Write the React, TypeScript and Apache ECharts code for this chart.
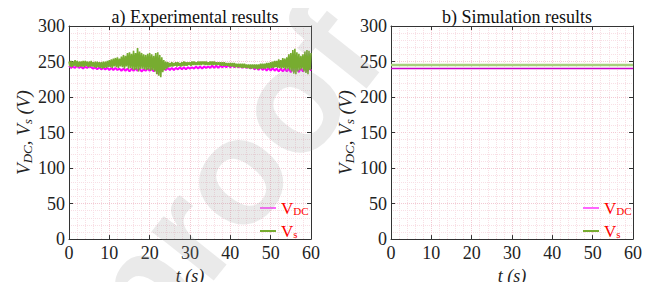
import React, { useEffect, useRef } from "react";
import * as echarts from "echarts";

// ---- data ----
const vsStep = 0.25; // seconds between experimental V_s samples
// experimental V_s (V): noisy trace, alternating high/low samples
const expVs = [
  250, 243, 251, 242, 250, 244, 252, 243, 251, 242, 250, 243, 250, 243, 251, 242,
  251, 244, 250, 242, 250, 243, 251, 243, 249, 242, 250, 241, 250, 242, 249, 241,
  249, 240, 250, 241, 250, 241, 251, 242, 252, 242, 253, 241, 254, 243, 255, 242,
  256, 241, 254, 243, 257, 242, 259, 240, 258, 243, 262, 240, 263, 241, 261, 239,
  265, 238, 262, 239, 269, 236, 264, 240, 262, 240, 260, 239, 259, 238, 261, 239,
  262, 237, 260, 238, 258, 236, 262, 232, 263, 230, 259, 228, 256, 235, 252, 238,
  250, 240, 249, 242, 248, 243, 249, 243, 248, 244, 249, 243, 249, 244, 248, 243,
  249, 244, 250, 244, 249, 244, 249, 245, 249, 244, 250, 245, 250, 245, 249, 245,
  250, 245, 250, 245, 250, 246, 250, 245, 250, 245, 249, 245, 250, 245, 250, 245,
  250, 245, 249, 245, 249, 245, 249, 244, 249, 244, 249, 244, 248, 244, 248, 243,
  248, 243, 248, 243, 248, 242, 247, 242, 247, 242, 247, 241, 247, 241, 247, 241,
  246, 241, 246, 240, 246, 240, 246, 240, 246, 240, 246, 239, 246, 240, 247, 240,
  247, 240, 247, 240, 248, 241, 248, 240, 249, 241, 250, 241, 251, 242, 251, 241,
  253, 241, 252, 240, 255, 241, 254, 239, 256, 240, 260, 238, 262, 236, 266, 233,
  268, 232, 263, 236, 261, 238, 258, 240, 260, 236, 264, 234, 266, 232, 265, 238,
  262,
];
const vdcStep = 0.5; // seconds between experimental V_DC samples
// experimental V_DC (V)
const expVdc = [
  244, 241, 243, 241, 244, 241, 243, 240, 243, 241, 243,
  242, 240, 242, 239, 242, 239, 241, 239, 241, 238,
  241, 238, 241, 238, 240, 237, 240, 237, 240, 236,
  240, 237, 240, 237, 240, 236, 239, 237, 240, 237,
  240, 236, 240, 233, 240, 237, 240, 238, 241, 238,
  241, 238, 241, 239, 242, 239, 242, 239, 242, 240,
  242, 240, 243, 240, 243, 240, 243, 241, 243, 241,
  244, 241, 244, 241, 244, 242, 244, 242, 245, 242,
  245, 242, 245, 242, 244, 241, 244, 241, 243, 240,
  243, 239, 242, 238, 242, 238, 241, 237, 241, 237,
  241, 237, 240, 236, 240, 236, 240, 236, 240, 235,
  240, 236, 240, 235, 241, 236, 241, 236, 242, 237,
];
// simulation (constant levels)
const simTime = [0, 60];
const simVs = [245, 245];
const simVdc = [240, 240];

const xTicks = { min: 0, max: 60, interval: 10 };
const yTicks = { min: 0, max: 300, interval: 50 };
const titles = ["a) Experimental results", "b) Simulation results"];

const SERIF = "Liberation Serif";

export default function App() {
  const ref = useRef<HTMLDivElement>(null);
  useEffect(() => {
    if (!ref.current) return;
    const chart = echarts.init(ref.current, undefined, { renderer: "svg" });

    const grids = [
      { left: 69, top: 26, width: 242, height: 215 },
      { left: 391, top: 26, width: 242, height: 216 },
    ];

    const axisLine = { show: true, onZero: false, lineStyle: { color: "#333", width: 1 } };
    const axisTick = { show: true, inside: true, length: 4, lineStyle: { color: "#333" } };
    const splitLine = { show: true, lineStyle: { color: "#f3c9d3", type: "dotted", width: 1 } };
    const minorSplitLine = { show: true, lineStyle: { color: "#f8dfe5", type: "dotted", width: 1 } };

    const xAxes: any[] = [];
    const yAxes: any[] = [];
    grids.forEach((_, g) => {
      xAxes.push({
        gridIndex: g, type: "value", ...xTicks, position: "bottom",
        axisLine, axisTick,
        axisLabel: { fontFamily: SERIF, fontSize: 18, color: "#222", margin: 5 },
        splitLine, minorTick: { show: false, splitNumber: 5 }, minorSplitLine,
        name: "t (s)", nameLocation: "middle", nameGap: 20,
        nameTextStyle: { fontFamily: SERIF, fontSize: 18, fontStyle: "italic", color: "#222" },
      });
      xAxes.push({
        gridIndex: g, type: "value", ...xTicks, position: "top",
        axisLine, axisTick, axisLabel: { show: false }, splitLine: { show: false },
      });
      yAxes.push({
        gridIndex: g, type: "value", ...yTicks, position: "left",
        axisLine, axisTick,
        axisLabel: { fontFamily: SERIF, fontSize: 18, color: "#222", margin: 4 },
        splitLine, minorTick: { show: false, splitNumber: 5 }, minorSplitLine,
        name: "{i|V}{s|DC}{i|, V}{s|s}{i| (V)}",
        nameLocation: "middle", nameRotate: 90, nameGap: 32,
        nameTextStyle: {
          rich: {
            i: { fontFamily: SERIF, fontSize: 19, fontStyle: "italic", color: "#222", lineHeight: 20, verticalAlign: "top" },
            s: { fontFamily: SERIF, fontSize: 13, fontStyle: "italic", color: "#222", lineHeight: 14, verticalAlign: "bottom", padding: [12, 0, 0, 0] },
          },
        },
      });
      yAxes.push({
        gridIndex: g, type: "value", ...yTicks, position: "right",
        axisLine, axisTick, axisLabel: { show: false }, splitLine: { show: false },
      });
    });

    const legendText = {
      fontFamily: SERIF, color: "#ff0000",
      rich: {
        m: { fontFamily: SERIF, fontSize: 17, color: "#ff0000", lineHeight: 16, verticalAlign: "top" },
        s: { fontFamily: SERIF, fontSize: 11, color: "#ff0000", lineHeight: 10, verticalAlign: "bottom", padding: [11, 0, 0, 0] },
      },
    };
    const legendFormatter = (name: string) => (name === "VDC" ? "{m|V}{s|DC}" : "{m|V}{s|s}");
    const legendData = [
      { name: "VDC", itemStyle: { color: "#ff66ff" } },
      { name: "Vs", itemStyle: { color: "#77ac30" } },
    ];
    const mkLegend = (left: number) => ({
      left, top: 194, orient: "vertical", icon: "rect", itemWidth: 16, itemHeight: 2,
      itemGap: 0, selectedMode: false, data: legendData, textStyle: legendText,
      formatter: legendFormatter, padding: 0,
    });

    chart.setOption({
      animation: false,
      backgroundColor: "#fff",
      title: titles.map((t, g) => ({
        text: t,
        left: grids[g].left + grids[g].width / 2,
        textAlign: "center",
        top: 3,
        textStyle: { fontFamily: SERIF, fontSize: 18, fontWeight: "normal", color: "#111" },
      })),
      grid: grids,
      xAxis: xAxes,
      yAxis: yAxes,
      legend: [mkLegend(260), mkLegend(583)],
      series: [
        {
          name: "VDC", type: "line", xAxisIndex: 0, yAxisIndex: 0, showSymbol: false,
          data: expVdc.map((v, i) => [i * vdcStep, v]),
          lineStyle: { color: "#ff00ff", width: 2 }, itemStyle: { color: "#ff00ff" },
        },
        {
          name: "Vs", type: "line", xAxisIndex: 0, yAxisIndex: 0, showSymbol: false,
          data: expVs.map((v, i) => [i * vsStep, v]),
          lineStyle: { color: "#77ac30", width: 1.6 }, itemStyle: { color: "#77ac30" },
        },
        {
          name: "VDC", type: "line", xAxisIndex: 2, yAxisIndex: 2, showSymbol: false,
          data: simVdc.map((v, i) => [simTime[i], v]),
          lineStyle: { color: "#cc00cc", width: 1.5 }, itemStyle: { color: "#cc00cc" },
        },
        {
          name: "Vs", type: "line", xAxisIndex: 2, yAxisIndex: 2, showSymbol: false,
          data: simVs.map((v, i) => [simTime[i], v]),
          lineStyle: { color: "#a6d07c", width: 2.5 }, itemStyle: { color: "#a6d07c" },
        },
      ],
      graphic: [
        {
          type: "text", x: 348, y: 28, rotation: 0.9, z: 100, silent: true,
          style: {
            text: "Journal Pre-proof", fontFamily: "Liberation Sans",
            fontSize: 150, fontWeight: "bold", fill: "rgba(150,150,150,0.2)",
            align: "right", verticalAlign: "middle",
          },
        },
      ],
    });
    return () => chart.dispose();
  }, []);
  return <div ref={ref} style={{ width: 661, height: 290, margin: -8 }} />;
}
